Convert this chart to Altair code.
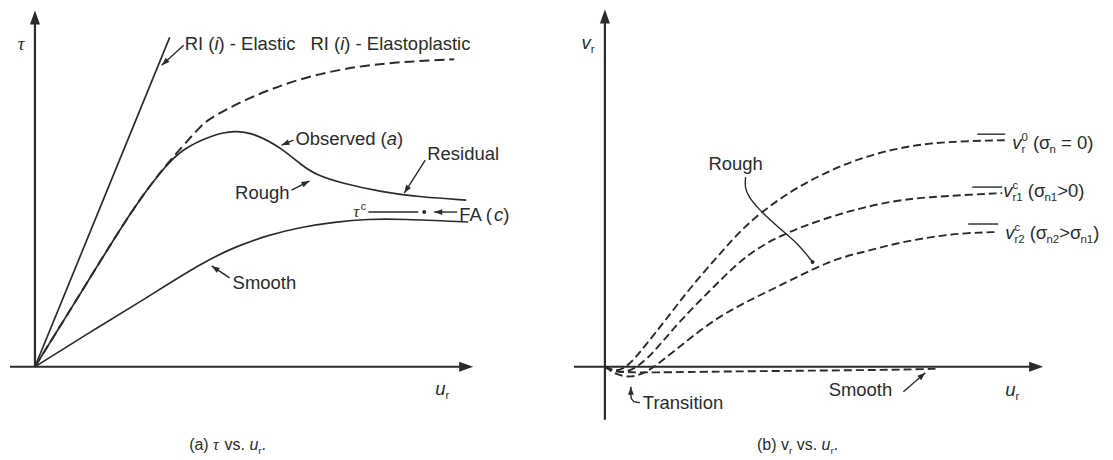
import math
import altair as alt
import pandas as pd

INK = "#2b2b2b"
SANS = "Liberation Sans"
SERIF = "Liberation Serif"
PX = 10.0  # pixels per schematic unit (both axes, both panels)

# ---------------- Panel (a): tau vs u_r (schematic units) ----------------
A_ELASTIC_U = [0.0, 13.5]
A_ELASTIC_T = [0.0, 33.0]
A_OBS_U = [0.0, 5.4, 9.7, 12.7, 14.7, 17.7, 20.0, 22.2, 24.7, 26.7, 28.2, 30.7, 34.7, 38.7, 43.2]
A_OBS_T = [0.0, 8.7, 15.7, 19.7, 21.8, 23.2, 23.7, 23.3, 21.9, 20.2, 19.2, 18.4, 17.5, 17.0, 16.7]
A_EP_U = [0.0, 5.4, 9.7, 12.7, 14.7, 16.7, 17.4, 21.0, 26.7, 32.7, 37.7, 42.0]
A_EP_T = [0.0, 8.7, 15.7, 19.7, 22.0, 24.2, 24.8, 26.8, 29.0, 30.2, 30.6, 30.8]
A_SMOOTH_U = [0.0, 5.4, 10.7, 16.7, 20.0, 23.4, 26.7, 30.0, 33.4, 36.7, 43.4]
A_SMOOTH_T = [0.0, 3.4, 6.6, 10.4, 12.0, 13.2, 14.0, 14.5, 14.8, 14.8, 14.5]
A_TAUC_U = [33.4, 38.4]
A_TAUC_T = [15.5, 15.5]
A_FA_POINT = (39.0, 15.5)

# ---------------- Panel (b): v_r vs u_r (schematic units) ----------------
B_C1_U = [0.0, 0.8, 1.8, 2.9, 4.1, 6.1, 8.6, 11.6, 13.9, 16.6, 19.3, 22.6, 25.9, 29.3, 32.6, 35.9, 40.1]
B_C1_V = [0.0, -0.4, -0.3, 0.7, 2.2, 4.7, 8.0, 11.4, 14.0, 16.2, 18.0, 19.7, 21.0, 21.9, 22.4, 22.6, 22.7]
B_C2_U = [0.0, 1.0, 2.1, 3.6, 5.1, 7.6, 10.9, 14.3, 18.6, 24.6, 29.3, 32.6, 35.9, 39.8]
B_C2_V = [0.0, -0.5, -0.6, 0.2, 1.7, 4.7, 8.0, 11.4, 13.7, 15.7, 16.7, 17.0, 17.2, 17.4]
B_C3_U = [0.0, 1.1, 2.6, 4.1, 5.6, 8.1, 10.9, 14.1, 17.3, 22.6, 25.9, 29.3, 32.6, 35.9, 39.4]
B_C3_V = [0.0, -0.8, -1.1, -0.6, 0.5, 2.5, 4.7, 6.5, 8.0, 10.7, 11.5, 12.4, 13.0, 13.4, 13.5]
B_SM_U = [0.0, 1.1, 3.6, 9.6, 19.6, 29.6, 33.4]
B_SM_V = [0.0, -0.5, -0.6, -0.5, -0.4, -0.3, -0.2]
B_ROUGH_U = [14.1, 14.0, 14.4, 15.3, 17.3, 19.3, 20.8]
B_ROUGH_V = [19.0, 18.0, 17.0, 15.9, 14.0, 12.4, 10.5]

# ---------------- layout (domains) ----------------
A_XDOM = [-2.5, 52.7]
B_XDOM = [-4.4, 50.1]
YDOM = [-8.5, 35.9]
A_W, B_W, H = 552, 545, 444
FS = 18.5

CW = {' ': 278, '(': 333, ')': 333, '-': 333, '.': 278, '=': 584, '>': 584,
      '0': 556, '1': 556, '2': 556, 'A': 667, 'E': 667, 'F': 611, 'I': 278,
      'O': 778, 'R': 722, 'S': 667, 'T': 611, 'a': 556, 'b': 556, 'c': 500,
      'd': 556, 'e': 556, 'g': 556, 'h': 556, 'i': 222, 'l': 222, 'm': 833,
      'n': 556, 'o': 556, 'p': 556, 'r': 333, 's': 500, 't': 278, 'u': 556,
      'v': 500, 'τ': 440, 'σ': 570}


def tw(s, fs):
    return sum(CW.get(ch, 556) for ch in s) / 1000.0 * fs


def rich_rows(lab):
    fs = lab["fs"]
    pieces = []
    cx = 0.0
    prev_start, prev_w = 0.0, 0.0
    for text, style, pos in lab["t"]:
        f = fs * 0.62 if pos != "n" else fs
        w = tw(text, f)
        if pos == "p!":
            start = prev_start
            cx = max(prev_start + prev_w, start + w)
        else:
            start = cx
            cx = start + w
            prev_start, prev_w = start, w
        off = {"n": 0.0, "b": -0.22 * fs, "p": 0.42 * fs, "p!": 0.42 * fs}[pos]
        lead = text[:len(text) - len(text.lstrip(" "))]
        pieces.append((text.strip(" "), style, f, start + tw(lead, f), off))
    total = cx
    shift = {"left": 0.0, "center": -total / 2, "right": -total}[lab.get("align", "left")]
    base = lab["y"] - 0.36 * fs / PX
    return [dict(x=lab["x"] + (start + shift) / PX, y=base + off / PX, text=text, fs=f, style=style)
            for text, style, f, start, off in pieces if text]


LABELS_A = [
    dict(x=15.0, y=32.4, fs=FS, t=[("RI (", "n", "n"), ("i", "i", "n"), (") - Elastic", "n", "n")]),
    dict(x=27.6, y=32.4, fs=FS, t=[("RI (", "n", "n"), ("i", "i", "n"), (") - Elastoplastic", "n", "n")]),
    dict(x=26.1, y=22.9, fs=FS, t=[("Observed (", "n", "n"), ("a", "i", "n"), (")", "n", "n")]),
    dict(x=39.3, y=21.4, fs=FS, t=[("Residual", "n", "n")]),
    dict(x=25.5, y=17.5, fs=FS, t=[("Rough", "n", "n")], align="right"),
    dict(x=19.8, y=8.5, fs=FS, t=[("Smooth", "n", "n")]),
    dict(x=31.9, y=15.6, fs=17, t=[("τ", "g", "n"), ("c", "n", "p")]),
    dict(x=42.5, y=15.3, fs=FS, t=[("FA (", "n", "n"), ("c", "i", "n"), (")", "n", "n")]),
    dict(x=-1.3, y=32.4, fs=19, t=[("τ", "g", "n")], align="center"),
    dict(x=40.8, y=-2.2, fs=FS, t=[("u", "i", "n"), ("r", "n", "b")], align="center"),
    dict(x=19.3, y=-7.8, fs=16, t=[("(a) ", "n", "n"), ("τ", "g", "n"), (" vs. ", "n", "n"),
                                  ("u", "i", "n"), ("r", "n", "b"), (".", "n", "n")], align="center"),
]

LABELS_B = [
    dict(x=-1.7, y=32.5, fs=FS, t=[("v", "i", "n"), ("r", "n", "b")], align="center"),
    dict(x=13.1, y=20.4, fs=FS, t=[("Rough", "n", "n")], align="center"),
    dict(x=40.8, y=22.5, fs=18.5, t=[("v", "i", "n"), ("r", "n", "b"), ("0", "n", "p!"), (" (σ", "n", "n"),
                                    ("n", "n", "b"), (" = 0)", "n", "n")]),
    dict(x=39.9, y=17.7, fs=18.5, t=[("v", "i", "n"), ("r1", "n", "b"), ("c", "n", "p!"), (" (σ", "n", "n"),
                                    ("n1", "n", "b"), (">0)", "n", "n")]),
    dict(x=40.1, y=13.5, fs=18.5, t=[("v", "i", "n"), ("r2", "n", "b"), ("c", "n", "p!"), (" (σ", "n", "n"),
                                    ("n2", "n", "b"), (">σ", "n", "n"), ("n1", "n", "b"), (")", "n", "n")]),
    dict(x=3.8, y=-3.6, fs=FS, t=[("Transition", "n", "n")]),
    dict(x=25.6, y=-2.3, fs=FS, t=[("Smooth", "n", "n")], align="center"),
    dict(x=40.8, y=-2.3, fs=FS, t=[("u", "i", "n"), ("r", "n", "b")], align="center"),
    dict(x=19.3, y=-7.8, fs=16, t=[("(b) v", "n", "n"), ("r", "n", "b"), (" vs. ", "n", "n"),
                                  ("u", "i", "n"), ("r", "n", "b"), (".", "n", "n")], align="center"),
]

# leader lines: list of polylines, last point is the tip; flag = arrowhead
LEADERS_A = [
    ([(14.9, 32.2), (12.7, 30.2)], True),
    ([(25.9, 22.7), (24.7, 22.2)], True),
    ([(39.1, 20.7), (37.0, 17.4)], True),
    ([(25.7, 17.7), (27.5, 18.6)], True),
    ([(19.5, 8.9), (17.7, 10.1)], True),
    ([(42.3, 15.5), (40.0, 15.5)], True),
]
LEADERS_B = [
    ([(3.5, -3.6), (2.9, -3.5), (2.65, -3.2), (2.6, -2.9), (2.6, -2.0)], True),
    ([(29.9, -2.5), (32.1, -0.6)], True),
    ([(37.3, 23.3), (40.1, 23.3)], False),
    ([(36.8, 18.0), (39.8, 18.0)], False),
    ([(36.4, 14.3), (39.4, 14.3)], False),
]

ARROW_SHAPE = "M0,0L0.36,1L-0.36,1Z"


def enc(xdom):
    X = alt.X("x:Q", scale=alt.Scale(domain=xdom, nice=False, zero=False), axis=None)
    Y = alt.Y("y:Q", scale=alt.Scale(domain=YDOM, nice=False, zero=False), axis=None)
    return X, Y


def curves_df(curves):
    rows = []
    for cid, (us, vs) in enumerate(curves):
        for i, (u, v) in enumerate(zip(us, vs)):
            rows.append(dict(id=cid, i=i, x=u, y=v))
    return pd.DataFrame(rows)


def leaders_df(leaders):
    rows = []
    for lid, (pts, _) in enumerate(leaders):
        for i, (u, v) in enumerate(pts):
            rows.append(dict(id=lid, i=i, x=u, y=v))
    return pd.DataFrame(rows)


def arrows_df(items):
    rows = []
    for (x0, y0), (x1, y1), L in items:
        ang = math.degrees(math.atan2(x1 - x0, y1 - y0)) % 360
        rows.append(dict(x=x1, y=y1, ang=ang, sz=(2 * L) ** 2))
    return pd.DataFrame(rows)


def text_layers(labels, X, Y):
    rows = []
    for lab in labels:
        rows += rich_rows(lab)
    df = pd.DataFrame(rows)
    out = []
    for style, (font, fst) in {"n": (SANS, "normal"), "i": (SANS, "italic"), "g": (SERIF, "italic")}.items():
        sub = df[df["style"] == style]
        if len(sub) == 0:
            continue
        out.append(alt.Chart(sub).mark_text(align="left", baseline="alphabetic", font=font,
                                            fontStyle=fst, color=INK).encode(
            x=X, y=Y, text="text:N", size=alt.Size("fs:Q", scale=None)))
    return out


def panel(xdom, width, axes, solid, dashed, dash, dash_w, leaders, extra_curves, dots, labels, ytail):
    X, Y = enc(xdom)
    layers = []
    ax = pd.DataFrame([dict(x=axes[0][0], y=0.0, x2=axes[0][1] - 0.8, y2=0.0),
                       dict(x=0.0, y=ytail, x2=0.0, y2=axes[1] - 0.8)])
    layers.append(alt.Chart(ax).mark_rule(color=INK, strokeWidth=2.2).encode(
        x=X, y=Y, x2="x2:Q", y2="y2:Q"))
    heads = [((axes[0][1] - 1, 0.0), (axes[0][1], 0.0), 14), ((0.0, axes[1] - 1), (0.0, axes[1]), 14)]
    for pts, flag in leaders:
        if flag:
            heads.append((pts[-2], pts[-1], 8))
    if solid:
        layers.append(alt.Chart(curves_df(solid)).mark_line(color=INK, strokeWidth=1.7, interpolate="basis").encode(
            x=X, y=Y, detail="id:N", order="i:Q"))
    if dashed:
        layers.append(alt.Chart(curves_df(dashed)).mark_line(color=INK, strokeWidth=dash_w, strokeDash=dash,
                                                             interpolate="basis").encode(
            x=X, y=Y, detail="id:N", order="i:Q"))
    layers.append(alt.Chart(leaders_df(leaders)).mark_line(color=INK, strokeWidth=1.4).encode(
        x=X, y=Y, detail="id:N", order="i:Q"))
    if extra_curves:
        layers.append(alt.Chart(curves_df(extra_curves)).mark_line(color=INK, strokeWidth=1.4, interpolate="basis").encode(
            x=X, y=Y, detail="id:N", order="i:Q"))
    if dots:
        layers.append(alt.Chart(pd.DataFrame([dict(x=a, y=b) for a, b in dots])).mark_circle(
            color=INK, size=16, opacity=1).encode(x=X, y=Y))
    layers.append(alt.Chart(arrows_df(heads)).mark_point(shape=ARROW_SHAPE, filled=True, color=INK,
                                                         opacity=1, strokeWidth=0).encode(
        x=X, y=Y, angle=alt.Angle("ang:Q", scale=None), size=alt.Size("sz:Q", scale=None)))
    layers += text_layers(labels, X, Y)
    return alt.layer(*layers).properties(width=width, height=H)


panel_a = panel(
    A_XDOM, A_W, ((-2.5, 43.9), 35.7),
    solid=[(A_ELASTIC_U, A_ELASTIC_T), (A_OBS_U, A_OBS_T), (A_SMOOTH_U, A_SMOOTH_T)],
    dashed=[(A_EP_U, A_EP_T)], dash=[10, 5], dash_w=2.0,
    leaders=LEADERS_A + [([(A_TAUC_U[0], A_TAUC_T[0]), (A_TAUC_U[1], A_TAUC_T[1])], False)],
    extra_curves=None, dots=[A_FA_POINT], labels=LABELS_A, ytail=0.0)

panel_b = panel(
    B_XDOM, B_W, ((-3.1, 43.9), 35.8),
    solid=None,
    dashed=[(B_C1_U, B_C1_V), (B_C2_U, B_C2_V), (B_C3_U, B_C3_V), (B_SM_U, B_SM_V)], dash=[8, 4], dash_w=1.9,
    leaders=LEADERS_B, extra_curves=[(B_ROUGH_U, B_ROUGH_V)],
    dots=[(B_ROUGH_U[-1], B_ROUGH_V[-1])], labels=LABELS_B, ytail=-5.3)

chart = alt.hconcat(panel_a, panel_b, spacing=0, bounds="flush", padding=0).configure_view(stroke=None)

chart.save("out.html", embed_options={"renderer": "svg", "actions": False})
